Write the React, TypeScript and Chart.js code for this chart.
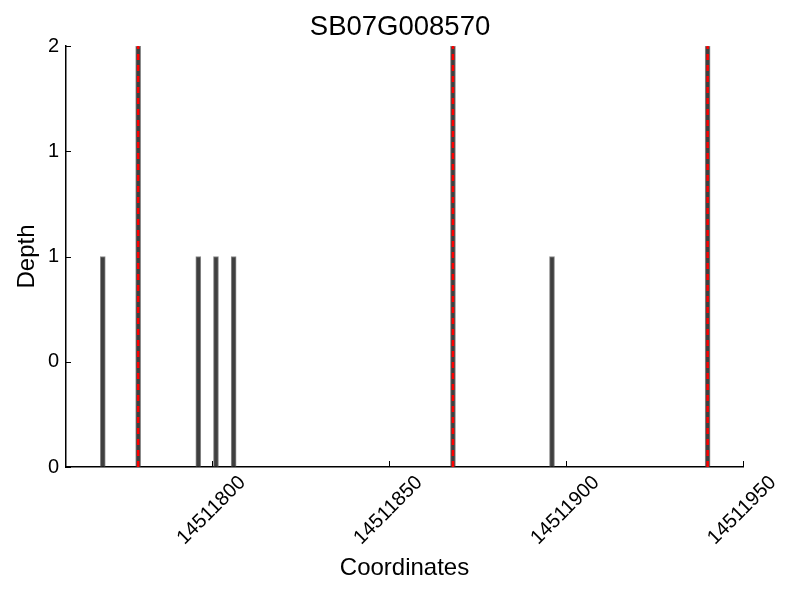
import React, { useEffect, useRef } from "react";
import { Chart, registerables } from "chart.js";

Chart.register(...registerables);

const chartTitle = "SB07G008570";
const xAxisTitle = "Coordinates";
const yAxisTitle = "Depth";

const positions = [14511769, 14511779, 14511796, 14511801, 14511806, 14511868, 14511896, 14511940];
const depths = [1, 2, 1, 1, 1, 2, 1, 2];
const markerPositions = [14511779, 14511868, 14511940];
const markerTop = 2;

const xMin = 14511758.6;
const xMax = 14511950;
const xTickValues = [14511800, 14511850, 14511900, 14511950];
const yTickValues = [0, 0.5, 1, 1.5, 2];
const yTickLabels = ["0", "0", "1", "1", "2"];

const FONT = "'Liberation Sans', Arial, Helvetica, sans-serif";

const innerTicks = {
  id: "innerTicks",
  afterDraw(chart: any) {
    const { ctx, chartArea, scales } = chart;
    ctx.save();
    ctx.strokeStyle = "#000";
    ctx.lineWidth = 1;
    ctx.beginPath();
    scales.x.ticks.forEach((t: any) => {
      const px = Math.round(scales.x.getPixelForValue(t.value)) + 0.5;
      ctx.moveTo(px, chartArea.bottom);
      ctx.lineTo(px, chartArea.bottom - 6);
    });
    scales.y.ticks.forEach((t: any) => {
      const py = Math.round(scales.y.getPixelForValue(t.value)) + 0.5;
      ctx.moveTo(chartArea.left, py);
      ctx.lineTo(chartArea.left + 5, py);
    });
    ctx.stroke();
    ctx.restore();
  },
};

export default function App() {
  const ref = useRef<HTMLCanvasElement | null>(null);

  useEffect(() => {
    if (!ref.current) return;
    const markerData: any[] = [];
    markerPositions.forEach((p) => {
      markerData.push({ x: p, y: 0 });
      markerData.push({ x: p, y: markerTop });
      markerData.push({ x: p, y: null });
    });
    const chart = new Chart(ref.current, {
      type: "bar",
      data: {
        datasets: [
          {
            type: "bar",
            data: positions.map((p, i) => ({ x: p, y: depths[i] })),
            backgroundColor: "#3f3f3f",
            borderColor: "#8a8a8a",
            borderWidth: 1,
            barThickness: 5,
            order: 1,
          } as any,
          {
            type: "line",
            data: markerData,
            borderColor: "#ff0000",
            borderWidth: 2.5,
            borderDash: [6, 5],
            pointRadius: 0,
            spanGaps: false,
            order: 0,
          } as any,
        ],
      },
      plugins: [innerTicks],
      options: {
        responsive: false,
        animation: false,
        events: [],
        layout: { padding: 0 },
        plugins: {
          legend: { display: false },
          tooltip: { enabled: false },
          title: {
            display: true,
            text: chartTitle,
            color: "#000",
            font: { family: FONT, size: 27.5, weight: "normal" },
            padding: { top: 11, bottom: 2 },
          },
        },
        scales: {
          x: {
            type: "linear",
            min: xMin,
            max: xMax,
            offset: false,
            afterBuildTicks: (s: any) => {
              s.ticks = xTickValues.map((v) => ({ value: v }));
            },
            afterFit: (s: any) => {
              s.height = 133;
            },
            grid: { display: true, drawOnChartArea: false, drawTicks: false },
            border: { display: true, color: "#000", width: 1.5 },
            ticks: {
              autoSkip: false,
              maxRotation: 45,
              minRotation: 45,
              padding: 4,
              labelOffset: 30,
              color: "#000",
              font: { family: FONT, size: 20 },
              callback: (v: any) => String(v),
            },
            title: {
              display: true,
              text: xAxisTitle,
              color: "#000",
              font: { family: FONT, size: 24 },
              padding: { top: 0, bottom: 17 },
            },
          },
          y: {
            type: "linear",
            min: 0,
            max: 2,
            afterBuildTicks: (s: any) => {
              s.ticks = yTickValues.map((v) => ({ value: v }));
            },
            afterFit: (s: any) => {
              s.width = 66;
            },
            grid: { display: true, drawOnChartArea: false, drawTicks: false },
            border: { display: true, color: "#000", width: 1.5 },
            ticks: {
              padding: 7,
              color: "#000",
              font: { family: FONT, size: 20 },
              callback: (_v: any, i: number) => yTickLabels[i],
            },
            title: {
              display: true,
              text: yAxisTitle,
              color: "#000",
              font: { family: FONT, size: 24 },
              padding: { top: 13, bottom: 0 },
            },
          },
          rightSpace: {
            type: "linear",
            position: "right",
            display: true,
            afterFit: (s: any) => {
              s.width = 57;
            },
            grid: { display: false, drawTicks: false },
            border: { display: false },
            ticks: { display: false },
            title: { display: false },
          },
        },
      },
    } as any);
    return () => chart.destroy();
  }, []);

  return (
    <div style={{ position: "absolute", left: 0, top: 0, width: 800, height: 600, background: "#fff" }}>
      <canvas ref={ref} width={800} height={600} />
    </div>
  );
}
